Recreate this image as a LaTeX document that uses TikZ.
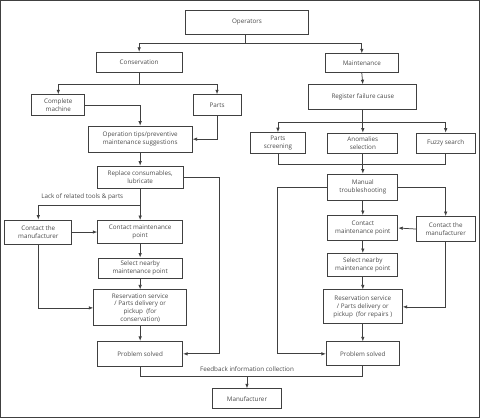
\documentclass[tikz,border=0pt]{standalone}
\usepackage{fontspec}
\setmainfont{Open Sans}
\usetikzlibrary{arrows.meta}
\definecolor{ink}{HTML}{404040}
\definecolor{txt}{HTML}{4A4A4A}
\begin{document}
\begin{tikzpicture}[x=1pt, y=-1pt, >={Latex[length=4.5pt,width=3.5pt]},
    every node/.style={font=\fontsize{6.3}{7.8}\selectfont, text=txt},
    every path/.style={draw=ink, line width=0.75pt},
    box/.style={draw=ink, line width=0.9pt, inner sep=1pt, align=center}]
  \useasboundingbox (0,0) rectangle (480,418);
  % Top
  \node[box, minimum width=124pt, minimum height=24pt] (ops) at (247,22) {Operators};
  \node[box, minimum width=86pt, minimum height=20pt] (cons) at (139,62) {Conservation};
  \node[box, minimum width=73pt, minimum height=19pt] (maint) at (362,63) {Maintenance};
  \node[box, minimum width=108pt, minimum height=25pt] (reg) at (363,97) {Register failure cause};
  % Conservation branch
  \node[box, minimum width=53pt, minimum height=21pt] (cm) at (58,105) {Complete\\machine};
  \node[box, minimum width=48pt, minimum height=21pt] (partsL) at (217,105) {Parts};
  \node[box, minimum width=104pt, minimum height=26pt] (tips) at (140,139) {Operation tips/preventive\\maintenance suggestions};
  \node[box, minimum width=86pt, minimum height=22pt] (repl) at (140,177) {Replace consumables,\\lubricate};
  \node[box, minimum width=67pt, minimum height=24pt] (mfrL) at (38,232) {Contact the\\manufacturer};
  \node[box, minimum width=85pt, minimum height=23pt] (cmpL) at (140,232) {Contact maintenance\\point};
  \node[box, minimum width=84pt, minimum height=20pt] (selL) at (140,268) {Select nearby\\maintenance point};
  \node[box, minimum width=93pt, minimum height=36pt] (resL) at (140,308) {Reservation service\\/ Parts delivery or\\pickup\ \ (for\\conservation)};
  \node[box, minimum width=85pt, minimum height=25pt] (solL) at (140,354) {Problem solved};
  % Maintenance branch
  \node[box, minimum width=55pt, minimum height=21pt] (pscr) at (278,143) {Parts\\screening};
  \node[box, minimum width=70pt, minimum height=20pt] (anom) at (363,143) {Anomalies\\selection};
  \node[box, minimum width=59pt, minimum height=20pt] (fuzzy) at (446,143) {Fuzzy search};
  \node[box, minimum width=70pt, minimum height=26pt] (manual) at (363,187) {Manual\\troubleshooting};
  \node[box, minimum width=70pt, minimum height=25pt] (cmpR) at (363,228) {Contact\\maintenance point};
  \node[box, minimum width=59pt, minimum height=25pt] (mfrR) at (446,229) {Contact the\\manufacturer};
  \node[box, minimum width=70pt, minimum height=23pt] (selR) at (363,265) {Select nearby\\maintenance point};
  \node[box, minimum width=79pt, minimum height=34pt] (resR) at (363,307) {Reservation service\\/ Parts delivery or\\pickup\ \ (for repairs )};
  \node[box, minimum width=73pt, minimum height=24pt] (solR) at (363,354) {Problem solved};
  % Bottom
  \node[box, minimum width=70pt, minimum height=20pt] (mfr) at (247,399) {Manufacturer};
  % Junctions
  \coordinate (opsj) at (245,43);
  \coordinate (consj) at (139,84);
  \coordinate (replj) at (140,205);
  \coordinate (regj) at (363,122);
  \coordinate (anomj) at (363,164);
  \coordinate (fbj) at (247,377);
  % Operators
  \draw (ops.south -| opsj) -- (opsj);
  \draw[->] (opsj) -| (cons.north);
  \draw[->] (opsj) -| (maint.north);
  % Conservation
  \draw (cons.south) -- (consj);
  \draw[->] (consj) -| (cm.north);
  \draw[->] (consj) -| (partsL.north);
  \draw[->] (cm.east) -| (tips.north);
  \draw[->] (partsL.south) |- (tips.east);
  \draw[->] (tips.south) -- (repl.north);
  \draw[->] (repl.east) -- ++(36,0) |- (solL.east);
  \draw (repl.south) -- (replj);
  \draw[->] (replj) -| (mfrL.north);
  \draw[->] (replj) -- (cmpL.north);
  \node (lack) at (82,197) {Lack of related tools \& parts};
  \draw[->] (mfrL.east) -- (cmpL.west);
  \draw[->] (cmpL.south) -- (selL.north);
  \draw[->] (selL.south) -- (resL.north);
  \draw[->] (mfrL.south) |- (resL.west);
  \draw[->] (resL.south) -- (solL.north);
  % Maintenance
  \draw[->] (maint.south) -- (reg.north);
  \draw (reg.south) -- (regj);
  \draw[->] (regj) -| (pscr.north);
  \draw[->] (regj) -- (anom.north);
  \draw[->] (regj) -| (fuzzy.north);
  \draw (pscr.south) |- (anomj);
  \draw (fuzzy.south) |- (anomj);
  \draw[->] (anom.south) -- (manual.north);
  \draw[->] (manual.east) -| (mfrR.north);
  \draw[->] (manual.west) -- ++(-50,0) |- (solR.west);
  \draw[->] (manual.south) -- (cmpR.north);
  \draw[->] (mfrR.west) -- (cmpR.east);
  \draw[->] (cmpR.south) -- (selR.north);
  \draw[->] (selR.south) -- (resR.north);
  \draw[->] (mfrR.south) |- (resR.east);
  \draw[->] (resR.south) -- (solR.north);
  % Feedback
  \draw (solL.south) |- (fbj);
  \draw (solR.south) |- (fbj);
  \draw[->] (fbj) -- (mfr.north);
  \node (fb) at (247,369) {Feedback information collection};
\end{tikzpicture}
\end{document}
